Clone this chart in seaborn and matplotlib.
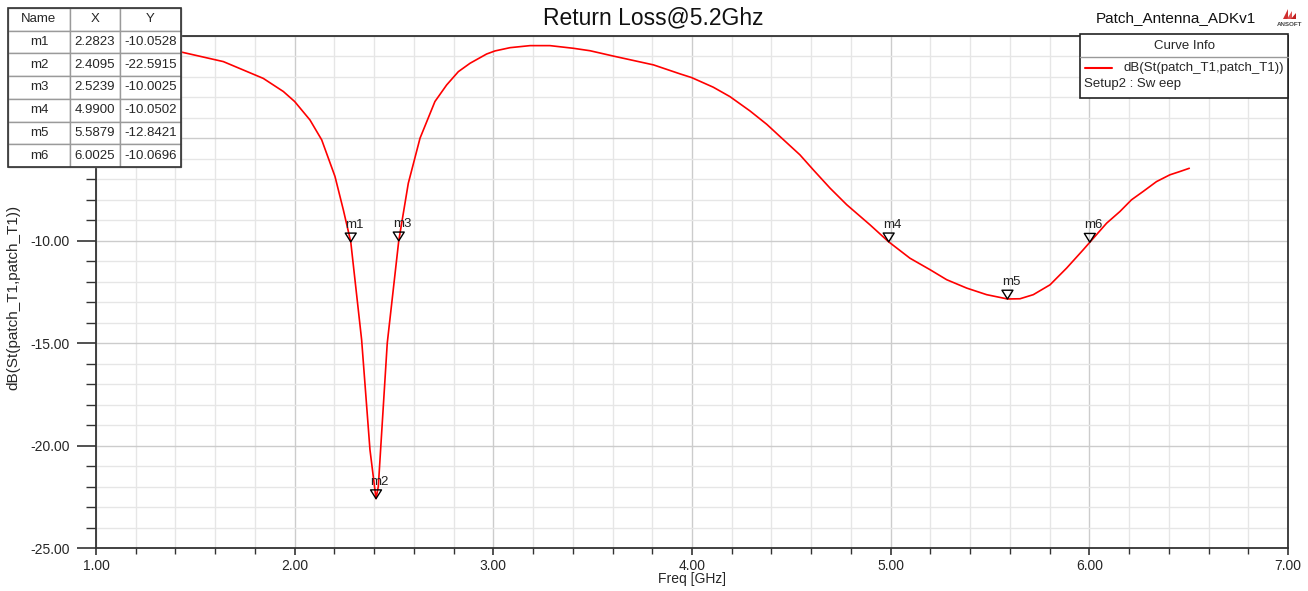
import numpy as np
import pandas as pd
import matplotlib
matplotlib.use("Agg")
import matplotlib.pyplot as plt
import seaborn as sns
from matplotlib.path import Path
from matplotlib.patches import Rectangle, Polygon
from matplotlib.lines import Line2D

# ---- data ----
freq = [1.00, 1.20, 1.423, 1.641, 1.842, 1.943, 2.000, 2.077, 2.136, 2.203, 2.245,
        2.2823, 2.337, 2.379, 2.4095, 2.421, 2.466, 2.5239, 2.572, 2.631, 2.706,
        2.765, 2.824, 2.883, 2.966, 3.008, 3.084, 3.185, 3.285, 3.403, 3.487,
        3.604, 3.806, 3.940, 3.998, 4.107, 4.191, 4.292, 4.376, 4.443, 4.543,
        4.611, 4.695, 4.779, 4.896, 4.990, 5.097, 5.198, 5.282, 5.383, 5.483,
        5.5879, 5.651, 5.718, 5.802, 5.886, 5.969, 6.0025, 6.087, 6.154, 6.212,
        6.271, 6.338, 6.405, 6.455, 6.503]
s11 = [-0.40, -0.55, -0.77, -1.25, -2.07, -2.71, -3.20, -4.10, -5.07, -6.86, -8.49,
       -10.05, -14.83, -20.20, -22.59, -22.00, -15.00, -10.00, -7.19, -4.99, -3.20,
       -2.39, -1.74, -1.33, -0.88, -0.73, -0.57, -0.47, -0.47, -0.60, -0.72,
       -0.98, -1.41, -1.85, -2.03, -2.50, -2.96, -3.66, -4.31, -4.91, -5.80,
       -6.54, -7.43, -8.24, -9.22, -10.05, -10.85, -11.41, -11.90, -12.31, -12.63,
       -12.84, -12.83, -12.63, -12.15, -11.33, -10.44, -10.07, -9.14, -8.57, -8.00,
       -7.59, -7.11, -6.78, -6.62, -6.46]

marker_names = ["m1", "m2", "m3", "m4", "m5", "m6"]
marker_x = [2.2823, 2.4095, 2.5239, 4.9900, 5.5879, 6.0025]
marker_y = [-10.0528, -22.5915, -10.0025, -10.0502, -12.8421, -10.0696]
marker_x_txt = ["2.2823", "2.4095", "2.5239", "4.9900", "5.5879", "6.0025"]
marker_y_txt = ["-10.0528", "-22.5915", "-10.0025", "-10.0502", "-12.8421", "-10.0696"]

title = "Return Loss@5.2Ghz"
xlabel = "Freq [GHz]"
ylabel = "dB(St(patch_T1,patch_T1))"
curve_name = "dB(St(patch_T1,patch_T1))"
project = "Patch_Antenna_ADKv1"

x_ticks = [1.0, 2.0, 3.0, 4.0, 5.0, 6.0, 7.0]
y_ticks = [-25.0, -20.0, -15.0, -10.0, -5.0, 0.0]

# ---- style ----
sns.set_style("white")
plt.rcParams['font.family'] = ['Liberation Sans', 'DejaVu Sans']

W, H = 1308, 591
fig = plt.figure(figsize=(W / 100, H / 100), dpi=100)
L, R, T, B = 96, 1288, 36, 548
ax = fig.add_axes([L / W, 1 - B / H, (R - L) / W, (B - T) / H])

df = pd.DataFrame({"freq": freq, "s11": s11})
sns.lineplot(data=df, x="freq", y="s11", ax=ax, color="#ff0000", linewidth=1.2,
             sort=False, zorder=3)

# markers: down triangle with tip at data point
tri = Path([(-1.0, 1.6), (1.0, 1.6), (0.0, 0.0), (-1.0, 1.6)],
           [Path.MOVETO, Path.LINETO, Path.LINETO, Path.CLOSEPOLY])
mdf = pd.DataFrame({"x": marker_x, "y": marker_y, "name": marker_names})
sns.scatterplot(data=mdf, x="x", y="y", ax=ax, marker=tri, s=160,
                facecolor="none", edgecolor="black", linewidth=1.0, zorder=4)
for n, x, y in zip(marker_names, marker_x, marker_y):
    ax.annotate(n, (x, y), xytext=(-4, 8), textcoords="offset points",
                ha="left", va="bottom", fontsize=9.5, color="#222222", zorder=5)

ax.set_xlim(1.0, 7.0)
ax.set_ylim(-25.0, 0.0)
ax.set_xticks(x_ticks)
ax.set_xticklabels([f"{v:.2f}" for v in x_ticks])
ax.set_yticks(y_ticks)
ax.set_yticklabels([f"{v:.2f}" for v in y_ticks])
ax.set_xticks(np.arange(1.0, 7.0001, 0.2), minor=True)
ax.set_yticks(np.arange(-25.0, 0.001, 1.0), minor=True)
ax.grid(which="minor", color="#e6e6e6", linewidth=1.0)
ax.grid(which="major", color="#cccccc", linewidth=1.0)
ax.set_axisbelow(True)
ax.tick_params(axis="x", which="major", direction="out", length=5, width=1.2,
               color="#333333", labelsize=10, pad=3, bottom=True)
ax.tick_params(axis="x", which="minor", direction="out", length=4, width=1.0,
               color="#333333", bottom=True)
ax.tick_params(axis="y", which="major", direction="out", length=14, width=1.2,
               color="#333333", labelsize=10, pad=5, left=True)
ax.tick_params(axis="y", which="minor", direction="out", length=7, width=1.0,
               color="#333333", left=True)
for s in ax.spines.values():
    s.set_color("#333333")
    s.set_linewidth(1.3)
    s.set_visible(True)
ax.set_xlabel(xlabel, fontsize=10, labelpad=0)
ax.set_ylabel(ylabel, fontsize=11, labelpad=4)
ax.yaxis.set_label_coords(-0.0635, 0.49)
ax.xaxis.set_label_coords(0.5, -0.046)

fig.text(653 / W, 1 - 18 / H, title, ha="center", va="center", fontsize=16.5,
         color="#111111")
fig.text(1176 / W, 1 - 18 / H, project, ha="center", va="center", fontsize=11,
         color="#111111")

# ANSOFT logo
for i, c in enumerate(["#d03030", "#e05050", "#c02020"]):
    fig.patches.append(Polygon([((1283 + i * 4) / W, 1 - 19 / H),
                                ((1288 + i * 4) / W, 1 - 19 / H),
                                ((1288 + i * 4) / W, 1 - (9 + i * 2) / H)],
                               closed=True, transform=fig.transFigure,
                               facecolor=c, edgecolor="none"))
fig.text(1290 / W, 1 - 24 / H, "ANSOFT", ha="center", va="center", fontsize=4.5,
         color="#444444", weight="bold")

# Curve Info box
bx0, bx1, by0, by1 = 1080, 1288, 34, 98
fig.patches.append(Rectangle((bx0 / W, 1 - by1 / H), (bx1 - bx0) / W, (by1 - by0) / H,
                             transform=fig.transFigure, facecolor="white",
                             edgecolor="#222222", linewidth=1.2, zorder=10))
fig.lines.append(Line2D([bx0 / W, bx1 / W], [1 - 57 / H, 1 - 57 / H],
                        transform=fig.transFigure, color="#999999", linewidth=1.0,
                        zorder=11))
fig.text((bx0 + bx1) / 2 / W, 1 - 46 / H, "Curve Info", ha="center", va="center",
         fontsize=9.5, zorder=12)
fig.lines.append(Line2D([1085 / W, 1112 / W], [1 - 68 / H, 1 - 68 / H],
                        transform=fig.transFigure, color="#ff0000", linewidth=1.5,
                        zorder=11))
fig.text(1123 / W, 1 - 68 / H, curve_name, ha="left", va="center", fontsize=9.5,
         zorder=12)
fig.text(1084 / W, 1 - 84 / H, "Setup2 : Sw eep", ha="left", va="center", fontsize=9.5,
         zorder=12)

# Marker table
cell_text = [[n, xs, ys] for n, xs, ys in zip(marker_names, marker_x_txt, marker_y_txt)]
tx0, tx1, ty0, ty1 = 8, 181, 8, 167
bbox = [(tx0 - L) / (R - L), (B - ty1) / (B - T), (tx1 - tx0) / (R - L), (ty1 - ty0) / (B - T)]
tbl = ax.table(cellText=cell_text, colLabels=["Name", "X", "Y"],
               colWidths=[0.358, 0.289, 0.353], cellLoc="center", bbox=bbox)
tbl.auto_set_font_size(False)
tbl.set_fontsize(9.5)
tbl.set_zorder(20)
tbl.set_clip_on(False)
for (r, c), cell in tbl.get_celld().items():
    cell.set_edgecolor("#9a9a9a")
    cell.set_linewidth(1.0)
    cell.set_facecolor("white")
    cell.set_clip_on(False)
fig.patches.append(Rectangle((tx0 / W, 1 - ty1 / H), (tx1 - tx0) / W, (ty1 - ty0) / H,
                             transform=fig.transFigure, facecolor="none",
                             edgecolor="#333333", linewidth=1.2, zorder=30))

fig.savefig("out.png", dpi=100)
